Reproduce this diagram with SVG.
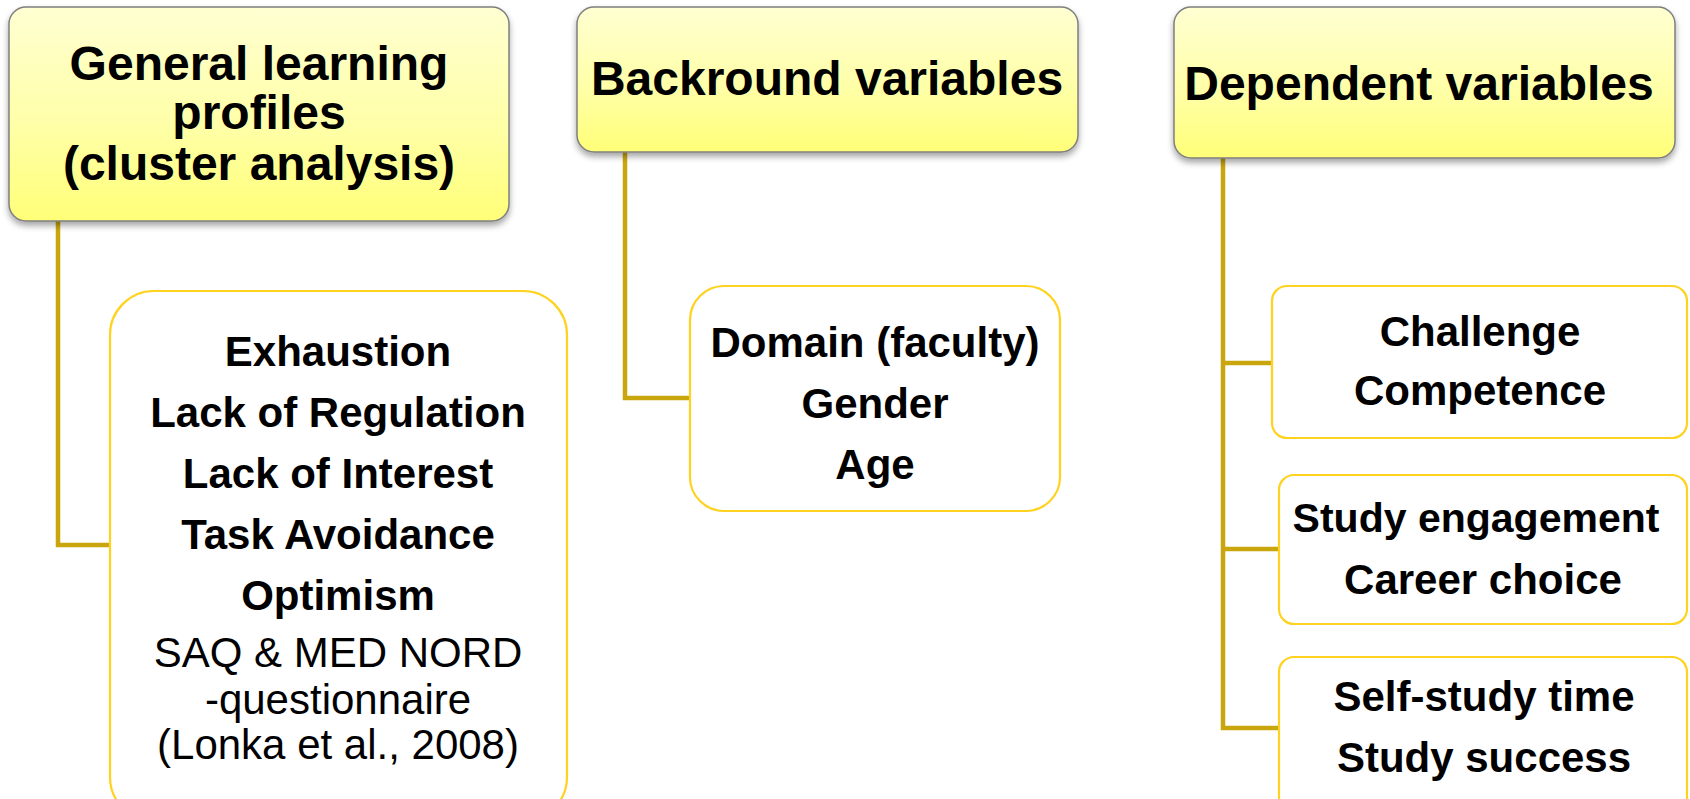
<svg xmlns="http://www.w3.org/2000/svg" width="1690" height="799" viewBox="0 0 1690 799">
<defs>
<linearGradient id="hdrGrad" x1="0" y1="0" x2="0" y2="1">
<stop offset="0" stop-color="#FFFFD2"/>
<stop offset="0.55" stop-color="#FFFFA8"/>
<stop offset="1" stop-color="#FFFF78"/>
</linearGradient>
<filter id="shadow" x="-5%" y="-5%" width="110%" height="120%">
<feDropShadow dx="0" dy="4" stdDeviation="3" flood-color="#000000" flood-opacity="0.35"/>
</filter>
<style>
.hdr{fill:url(#hdrGrad);stroke:#7F7F7F;stroke-width:1.5;filter:url(#shadow)}
.box{fill:#FFFFFF;stroke:#FFD21F;stroke-width:2.2}
.conn{fill:none;stroke:#C9A50E;stroke-width:4.5;stroke-linejoin:miter}
.ht{font-family:"Liberation Sans",Arial,sans-serif;font-weight:bold;font-size:48px;fill:#000;text-anchor:middle}
.bt{font-family:"Liberation Sans",Arial,sans-serif;font-weight:bold;font-size:42px;fill:#000;text-anchor:middle}
.rt{font-family:"Liberation Sans",Arial,sans-serif;font-size:42px;fill:#000;text-anchor:middle}
</style>
</defs>
<rect width="1690" height="799" fill="#FFFFFF"/>
<g id="connectors">
<path class="conn" d="M58 221 V545 H110"/>
<path class="conn" d="M625 152 V398 H690"/>
<path class="conn" d="M1223 158 V728 H1279"/>
<path class="conn" d="M1223 363 H1272"/>
<path class="conn" d="M1223 549 H1279"/>
</g>
<g id="header-profiles">
<rect class="hdr" x="9" y="7" width="500" height="214" rx="17"/>
<text class="ht" x="259" y="80">General learning</text>
<text class="ht" x="259" y="129">profiles</text>
<text class="ht" x="259" y="180">(cluster analysis)</text>
</g>
<g id="header-background">
<rect class="hdr" x="577" y="7" width="501" height="145" rx="17"/>
<text class="ht" x="827" y="95">Backround variables</text>
</g>
<g id="header-dependent">
<rect class="hdr" x="1174" y="7" width="501" height="151" rx="17"/>
<text class="ht" x="1419" y="100">Dependent variables</text>
</g>
<g id="box-profiles">
<rect class="box" x="110" y="291" width="457" height="530" rx="44"/>
<text class="bt" x="338" y="366">Exhaustion</text>
<text class="bt" x="338" y="427">Lack of Regulation</text>
<text class="bt" x="338" y="488">Lack of Interest</text>
<text class="bt" x="338" y="549">Task Avoidance</text>
<text class="bt" x="338" y="610">Optimism</text>
<text class="rt" x="338" y="667">SAQ &amp; MED NORD</text>
<text class="rt" x="338" y="714">-questionnaire</text>
<text class="rt" x="338" y="759">(Lonka et al., 2008)</text>
</g>
<g id="box-background">
<rect class="box" x="690" y="286" width="370" height="225" rx="34"/>
<text class="bt" x="875" y="357">Domain (faculty)</text>
<text class="bt" x="875" y="418">Gender</text>
<text class="bt" x="875" y="479">Age</text>
</g>
<g id="box-challenge">
<rect class="box" x="1272" y="286" width="415" height="152" rx="15"/>
<text class="bt" x="1480" y="346">Challenge</text>
<text class="bt" x="1480" y="405">Competence</text>
</g>
<g id="box-engagement">
<rect class="box" x="1279" y="475" width="408" height="149" rx="15"/>
<text class="bt" x="1476" y="532" style="font-size:41px">Study engagement</text>
<text class="bt" x="1483" y="594">Career choice</text>
</g>
<g id="box-selfstudy">
<rect class="box" x="1279" y="657" width="408" height="160" rx="15"/>
<text class="bt" x="1484" y="711">Self-study time</text>
<text class="bt" x="1484" y="772">Study success</text>
</g>
</svg>
